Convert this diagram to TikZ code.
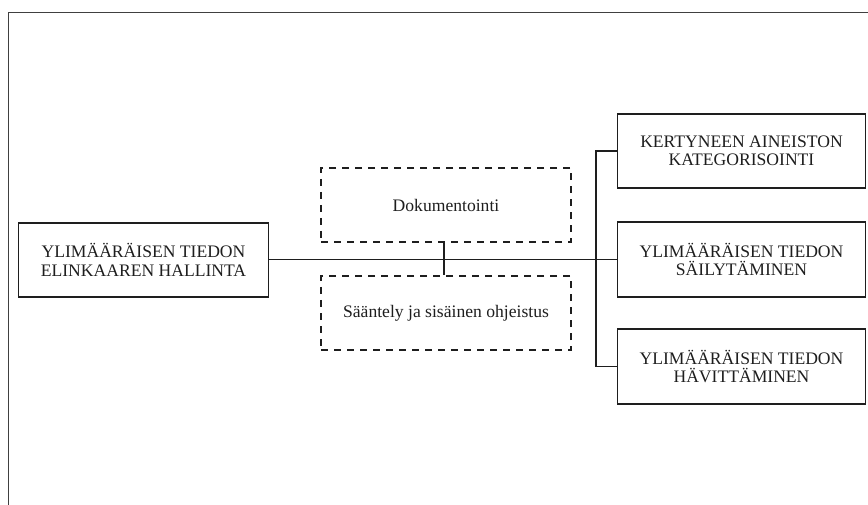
\documentclass[tikz,border=0pt]{standalone}
\usepackage{fontspec}
\setmainfont{Liberation Serif}
\definecolor{ink}{HTML}{1E1E1E}
\begin{document}
\begin{tikzpicture}[x=1pt,y=-1pt,
  solidbox/.style={draw=ink,line width=1.8pt,minimum width=248pt,minimum height=74.5pt,inner sep=0pt,align=center,text=ink,font=\fontsize{17.6}{18.3}\selectfont},
  dashbox/.style={draw=ink,line width=1.6pt,dash pattern=on 7pt off 6pt,minimum width=250pt,minimum height=74pt,inner sep=0pt,align=center,text=ink,font=\fontsize{17.6}{18.3}\selectfont},
  conn/.style={draw=ink,line width=1.8pt}]
\useasboundingbox (0,0) rectangle (868,505);
\draw[draw=ink!85,line width=1.8pt] (8.5,506) -- (8.5,12.5) -- (869,12.5);
\node[solidbox,minimum width=250pt] (main) at (143.5,260) {YLIMÄÄRÄISEN TIEDON\\ELINKAAREN HALLINTA};
\node[solidbox] (r1) at (741.5,151) {KERTYNEEN AINEISTON\\KATEGORISOINTI};
\node[solidbox] (r2) at (741.5,259.5) {YLIMÄÄRÄISEN TIEDON\\SÄILYTÄMINEN};
\node[solidbox] (r3) at (741.5,366.5) {YLIMÄÄRÄISEN TIEDON\\HÄVITTÄMINEN};
\node[dashbox] (d1) at (446,205) {Dokumentointi};
\node[dashbox] (d2) at (446,313) {Sääntely ja sisäinen ohjeistus};
\coordinate (bus) at (596,259.5);
\draw[conn] (main.east |- bus) -- (r2.west);
\draw[conn] (r1.west) -- (r1.west -| bus) -- (r3.west -| bus) -- (r3.west);
\draw[conn] ([xshift=-2pt]d1.south) -- ([xshift=-2pt]d2.north);
\end{tikzpicture}
\end{document}
